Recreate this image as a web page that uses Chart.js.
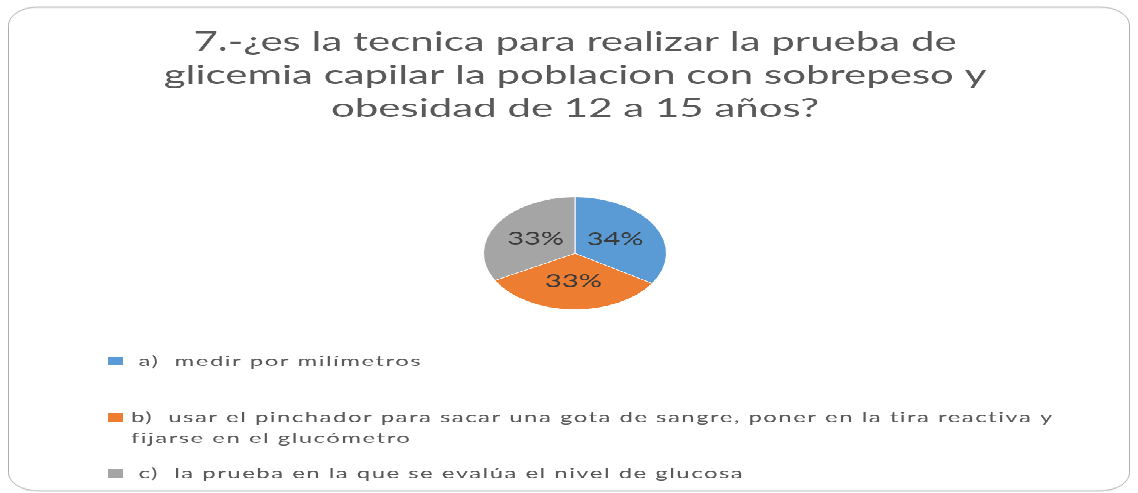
<!DOCTYPE html>
<html>
<head>
<meta charset="utf-8">
<script src="https://cdn.jsdelivr.net/npm/chart.js@4.4.1/dist/chart.umd.min.js"></script>
<style>
  html, body { margin: 0; padding: 0; background: #fff; overflow: hidden; }
  /* the reference is squashed vertically, so draw tall and scale down */
  #stage {
    position: absolute; left: 0; top: 0;
    width: 1138px; height: 800px;
    transform: scaleY(0.61625); transform-origin: 0 0;
  }
  #frame {
    position: absolute; left: 8px; top: 11px; width: 1122px; height: 786px;
    border: 1.5px solid #9a9a9a; border-radius: 30px; box-sizing: border-box;
  }
  #wrap { position: absolute; left: 0; top: 0; width: 1138px; height: 800px; }
</style>
</head>
<body>
<div id="stage">
  <div id="frame"></div>
  <div id="wrap"><canvas id="myChart"></canvas></div>
</div>
<script>
const ctx = document.getElementById("myChart");

const titleLines = [
    "7.-¿es la tecnica para realizar la prueba de",
    "glicemia capilar la poblacion con sobrepeso y",
    "obesidad de 12 a 15 años?"
];
const categories = [
    [" a)  medir por milímetros"],
    ["b)  usar el pinchador para sacar una gota de sangre, poner en la tira reactiva y", "fijarse en el glucómetro"],
    [" c)  la prueba en la que se evalúa el nivel de glucosa"]
];
const values = [34, 33, 33];
const sliceColors = ["#5B9BD5", "#ED7D31", "#A5A5A5"];

const textColor = "#595959";
const fontFamily = "Lato, 'Open Sans', sans-serif";

// percentage inside each slice
const percentLabels = {
    id: "percentLabels",
    afterDatasetsDraw(chart) {
        const c = chart.ctx;
        const meta = chart.getDatasetMeta(0);
        const total = values.reduce((a, b) => a + b, 0);
        c.save();
        c.font = `29px ${fontFamily}`;
        c.fillStyle = "#3a3a3a";
        c.textAlign = "center";
        c.textBaseline = "middle";
        meta.data.forEach((arc, i) => {
            const pos = arc.tooltipPosition();
            c.fillText(Math.round(values[i] / total * 100) + "%", pos.x, pos.y);
        });
        c.restore();
    }
};

// legend stacked at the bottom left, one item per block
const blockLegend = {
    id: "blockLegend",
    afterDraw(chart) {
        const c = chart.ctx;
        const rowTops = [594, 685, 776];   // baselines of first line
        const lineGap = 34;
        c.save();
        c.font = `24px ${fontFamily}`;
        c.letterSpacing = "1.45px";
        c.textBaseline = "alphabetic";
        c.textAlign = "left";
        categories.forEach((lines, i) => {
            const y = rowTops[i];
            c.fillStyle = sliceColors[i];
            c.fillRect(108, y - 15, 15, 14);
            c.fillStyle = textColor;
            lines.forEach((line, j) => {
                c.fillText(line, 131, y + j * lineGap);
            });
        });
        c.restore();
    }
};

const chart = new Chart(ctx, {
    type: "pie",
    data: {
        labels: categories.map(l => l.join(" ")),
        datasets: [{
            data: values,
            backgroundColor: sliceColors,
            borderColor: "#ffffff",
            borderWidth: 1
        }]
    },
    options: {
        responsive: true,
        maintainAspectRatio: false,
        animation: false,
        layout: {
            padding: { top: 0, bottom: 297, left: 12, right: 0 }
        },
        plugins: {
            legend: { display: false },
            tooltip: { enabled: false },
            title: {
                display: true,
                text: titleLines,
                color: textColor,
                font: { family: fontFamily, size: 42, weight: "normal", lineHeight: 54 / 42 },
                padding: { top: 41, bottom: 116 }
            }
        }
    },
    plugins: [percentLabels, blockLegend]
});
</script>
</body>
</html>
